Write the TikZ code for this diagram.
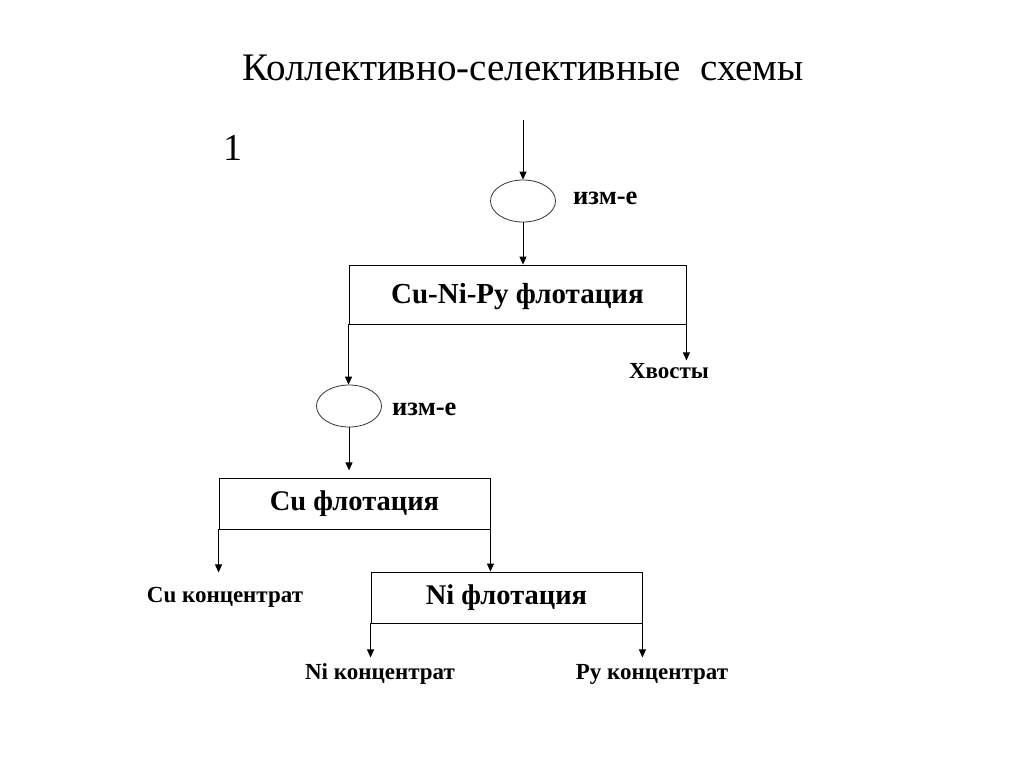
\documentclass[tikz,border=0pt]{standalone}
\usepackage{fontspec}
\setmainfont{Liberation Serif}
\usetikzlibrary{arrows.meta,shapes.geometric}
\tikzset{
  arr/.style={-{Triangle[length=8pt,width=7pt]}, line width=0.9pt},
  boxnode/.style={draw, line width=0.9pt, inner sep=0pt, font=\fontsize{28.5}{32}\selectfont\bfseries},
  ell/.style={draw=black!80, ellipse, line width=0.8pt, minimum width=65pt, minimum height=42pt, inner sep=0pt},
  lbl/.style={inner sep=0pt, font=\fontsize{23}{27}\selectfont\bfseries},
  izm/.style={inner sep=0pt, font=\fontsize{26.5}{30}\selectfont\bfseries},
}
\begin{document}
\begin{tikzpicture}[x=1pt,y=-1pt]
\useasboundingbox (0,0) rectangle (1024,768);
\node[inner sep=0pt, font=\fontsize{39}{46}\selectfont] (title) at (523,68) {Коллективно-селективные\ \ схемы};
\node[inner sep=0pt, font=\fontsize{38}{44}\selectfont] (num) at (233,148) {1};

\coordinate (in) at (523,120);
\node[ell] (e1) at (523,201) {};
\node[izm, anchor=west] (l1) at (573,198) {изм-е};
\node[boxnode, minimum width=337pt, minimum height=59pt, font=\fontsize{29}{33}\selectfont\bfseries, text depth=3pt] (b1) at (517.5,294.5) {Cu-Ni-Py флотация};
\node[lbl] (tails) at (669,371) {Хвосты};
\node[ell] (e2) at (349,406) {};
\node[izm, anchor=west] (l2) at (392,409) {изм-е};
\node[boxnode, minimum width=271pt, minimum height=51pt] (b2) at (354.5,503.5) {Cu флотация};
\node[lbl] (cuc) at (225,597) {Cu концентрат};
\node[boxnode, minimum width=271pt, minimum height=51pt] (b3) at (506.5,597.5) {Ni флотация};
\node[lbl] (nic) at (380,674) {Ni концентрат};
\node[lbl] (pyc) at (652,674) {Ру концентрат};

\draw[arr] (in) -- (e1.north);
\draw[arr] (e1.south) -- (e1.south |- b1.north);
\draw[arr] (b1.south west) -- (b1.south west |- e2.north);
\draw[arr] (b1.south east) -- ++(0,36);
\draw[arr] (e2.south) -- ++(0,43);
\draw[arr] (b2.south west) -- ++(0,43);
\draw[arr] (b2.south east) -- (b2.south east |- b3.north);
\draw[arr] (b3.south west) -- ++(0,34);
\draw[arr] (b3.south east) -- ++(0,34);
\end{tikzpicture}
\end{document}
